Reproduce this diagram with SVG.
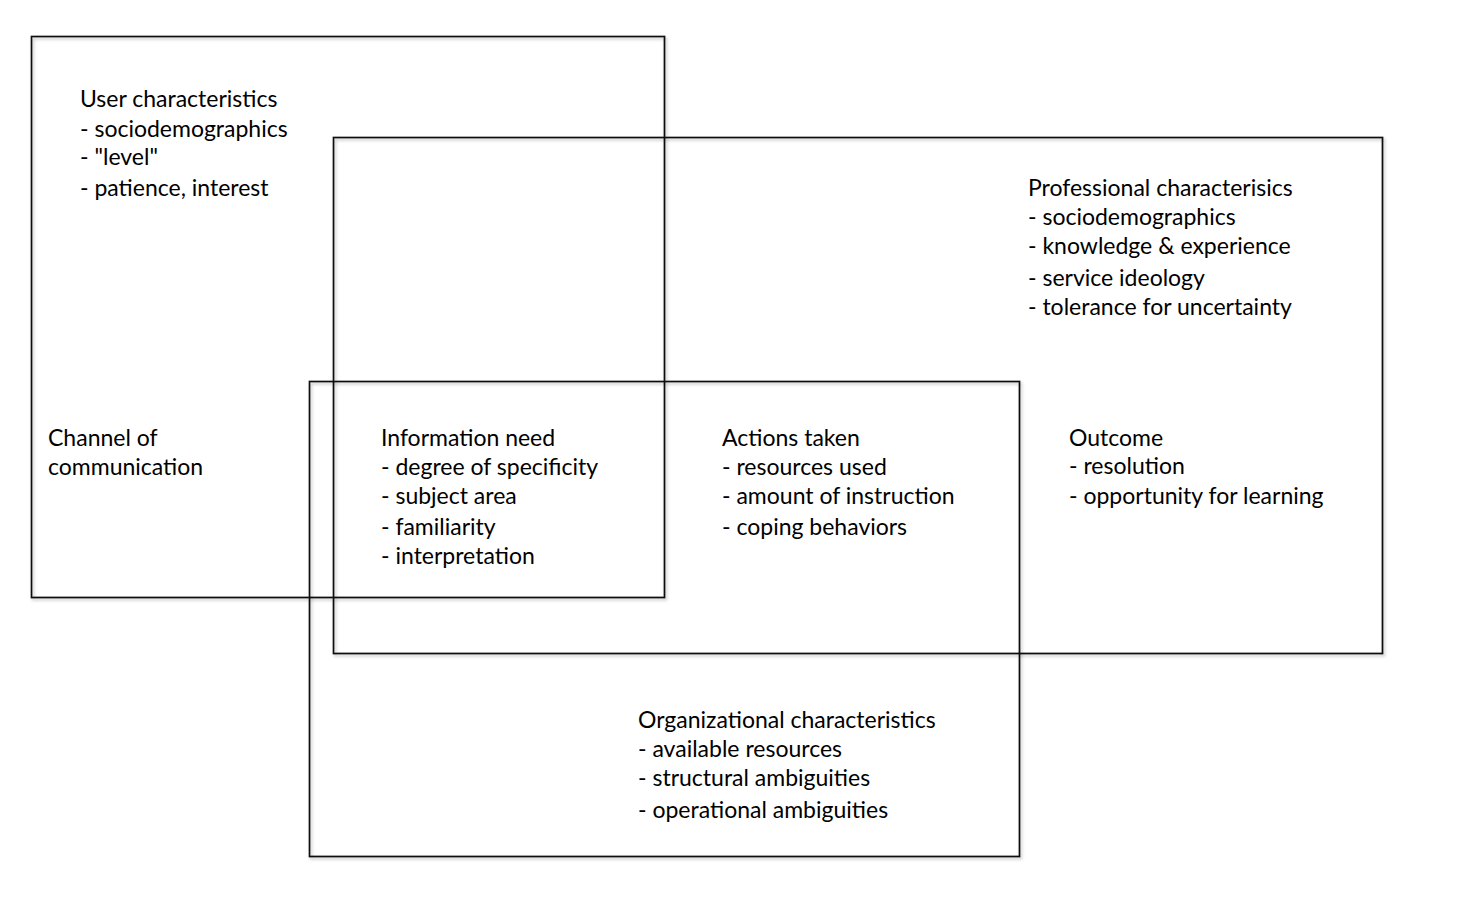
<svg xmlns="http://www.w3.org/2000/svg" width="1457" height="909" viewBox="0 0 1457 909">
<style>
.box{fill:none;stroke:#111;stroke-width:1.7;filter:url(#sh)}
text{font-family:Lato,"Open Sans",sans-serif;font-size:23px;fill:#000}
</style>
<defs>
<filter id="sh" x="-5%" y="-5%" width="110%" height="110%">
<feDropShadow dx="1.5" dy="2" stdDeviation="1.5" flood-color="#000" flood-opacity="0.25"/>
</filter>
</defs>
<rect width="1457" height="909" fill="#fff"/>
<g id="connectors"></g>
<g id="user">
<rect class="box" x="31.5" y="36.5" width="633" height="561"/>
<text x="80" y="107">User characteristics</text>
<text x="80" y="137">- sociodemographics</text>
<text x="80" y="165">- "level"</text>
<text x="80" y="196">- patience, interest</text>
</g>
<g id="professional">
<rect class="box" x="333.5" y="137.5" width="1049" height="516"/>
<text x="1028" y="196">Professional characterisics</text>
<text x="1028" y="225">- sociodemographics</text>
<text x="1028" y="254">- knowledge &amp; experience</text>
<text x="1028" y="286">- service ideology</text>
<text x="1028" y="315">- tolerance for uncertainty</text>
</g>
<g id="organizational">
<rect class="box" x="309.5" y="381.5" width="710" height="475"/>
<text x="638" y="728">Organizational characteristics</text>
<text x="638" y="757">- available resources</text>
<text x="638" y="786">- structural ambiguities</text>
<text x="638" y="818">- operational ambiguities</text>
</g>
<g id="channel">
<text x="48" y="446">Channel of</text>
<text x="48" y="475">communication</text>
</g>
<g id="information">
<text x="381" y="446">Information need</text>
<text x="381" y="475">- degree of specificity</text>
<text x="381" y="504">- subject area</text>
<text x="381" y="535">- familiarity</text>
<text x="381" y="564">- interpretation</text>
</g>
<g id="actions">
<text x="722" y="446">Actions taken</text>
<text x="722" y="475">- resources used</text>
<text x="722" y="504">- amount of instruction</text>
<text x="722" y="535">- coping behaviors</text>
</g>
<g id="outcome">
<text x="1069" y="446">Outcome</text>
<text x="1069" y="474">- resolution</text>
<text x="1069" y="504">- opportunity for learning</text>
</g>
</svg>
